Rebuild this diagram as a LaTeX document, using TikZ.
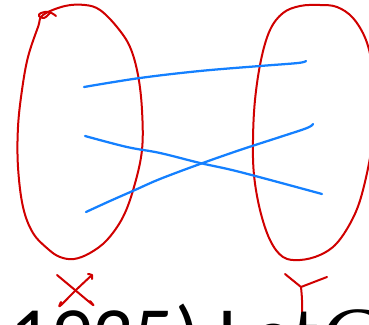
\documentclass[tikz,border=0pt]{standalone}
\usepackage{fontspec}
\setmainfont{Carlito}
\newfontfamily\serifit{Liberation Serif}
\definecolor{inkred}{RGB}{208,0,0}
\definecolor{inkblue}{RGB}{20,128,255}
\tikzset{
  redink/.style={draw=inkred, line width=1.5pt, line cap=round, line join=round},
  blueink/.style={draw=inkblue, line width=1.7pt, line cap=round, line join=round},
  bigtext/.style={inner sep=0pt, anchor=base west, font=\fontsize{61}{70}\selectfont}
}
\begin{document}
\begin{tikzpicture}[x=0.75pt, y=-0.75pt]
\useasboundingbox (0,0) rectangle (369,325);
\clip (0,0) rectangle (369,325);
% left oval X
\draw[redink] plot[smooth cycle, tension=0.6] coordinates {
  (43,15) (65,6) (85,5) (100,10) (117,27) (130,47) (138,75) (142,110) (142,150)
  (134,187) (123,217) (107,240) (90,253) (74,259) (60,257) (48,249) (33,233) (23,207)
  (18,167) (18,127) (22,90) (28,57) (38,27)};
\draw[redink] plot[smooth, tension=0.7] coordinates {(56,16) (49,12) (41,13) (39,16) (44,18) (50,13)};
% right oval Y
\draw[redink] plot[smooth cycle, tension=0.6] coordinates {
  (283,13) (300,6) (320,5) (337,7) (353,18) (366,40) (373,70) (375,100) (372,145)
  (363,190) (353,218) (337,243) (320,255) (300,260) (283,257) (270,240) (260,210)
  (254,175) (253,140) (255,100) (261,60) (270,30)};
% blue mapping lines
\coordinate (a1) at (84,87);
\coordinate (b1) at (306,61);
\coordinate (a2) at (85,136);
\coordinate (b2) at (322,194);
\coordinate (a3) at (86,212);
\coordinate (b3) at (313,124);
\draw[blueink] plot[smooth, tension=0.6] coordinates {(a1) (140,78) (200,71) (260,66) (298,63) (b1)};
\draw[blueink] plot[smooth, tension=0.6] coordinates {(a2) (127,147) (160,153) (200,163) (240,172) (b2)};
\draw[blueink] plot[smooth, tension=0.6] coordinates {(a3) (110,201) (135,190) (160,179) (200,164) (240,150) (280,137) (307,128) (b3)};
% label X
\draw[redink] plot[smooth, tension=0.5] coordinates {(57,275) (75,290) (93,305) (90,301)};
\draw[redink] plot[smooth, tension=0.5] coordinates {(88,274) (92,275) (92,279)};
\draw[redink] plot[smooth, tension=0.5] coordinates {(92,275) (76,290) (60,306) (61,302)};
% label Y
\coordinate (yj) at (301,287);
\draw[redink] (285,274) -- (yj);
\draw[redink] (327,277) -- (yj);
\draw[redink] plot[smooth, tension=0.5] coordinates {(yj) (302,300) (302,322)};
% text
\node[bigtext] (t1) at (10,363) {1935) Let};
\node[bigtext, font=\fontsize{61}{70}\serifit\itshape] (t2) at (320,363) {C};
\end{tikzpicture}
\end{document}
